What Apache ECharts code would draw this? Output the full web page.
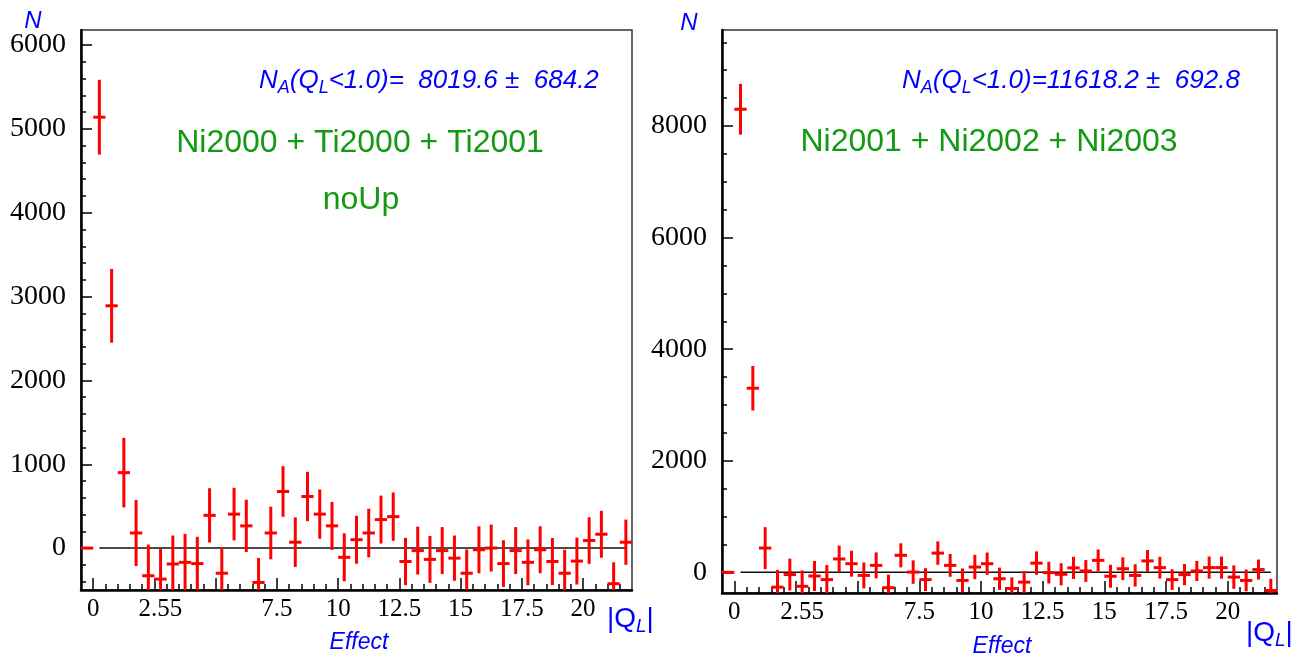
<!DOCTYPE html>
<html>
<head>
<meta charset="utf-8">
<script src="https://cdn.jsdelivr.net/npm/echarts@6/dist/echarts.min.js"></script>
<style>
    html, body { margin: 0; padding: 0; background: #fff; }
    #chart { width: 1302px; height: 657px; }
</style>
</head>
<body>
<div id="chart"></div>
<script>
    // bin centres of |Q_L| (bin width 0.5)
    var binCenters = [-0.25, 0.25, 0.75, 1.25, 1.75, 2.25, 2.75, 3.25, 3.75, 4.25, 4.75,
        5.25, 5.75, 6.25, 6.75, 7.25, 7.75, 8.25, 8.75, 9.25, 9.75, 10.25, 10.75,
        11.25, 11.75, 12.25, 12.75, 13.25, 13.75, 14.25, 14.75, 15.25, 15.75, 16.25, 16.75,
        17.25, 17.75, 18.25, 18.75, 19.25, 19.75, 20.25, 20.75, 21.25, 21.75];
    var binWidth = 0.5;

    // left panel: Ni2000 + Ti2000 + Ti2001 (noUp)
    var leftCounts = [0, 5140, 2890, 900, 180, -330, -370, -190, -170, -185, 390,
        -300, 405, 265, -410, 180, 675, 70, 615, 405, 265, -110, 100,
        180, 340, 375, -160, -30, -135, -30, -120, -300, -20, 0, -185,
        -30, -170, -20, -160, -300, -155, 90, 165, -425, 70];
    var leftErrors = [0, 446, 440, 415, 394, 372, 360, 340, 340, 320, 324,
        312, 314, 312, 292, 314, 302, 296, 294, 294, 286, 286, 286,
        290, 286, 288, 282, 286, 280, 280, 270, 284, 280, 280, 278,
        280, 274, 280, 280, 280, 280, 278, 280, 256, 270];

    // right panel: Ni2001 + Ni2002 + Ni2003
    var rightCounts = [0, 8300, 3300, 435, -265, -40, -250, -65, -130, 240, 155,
        -55, 125, -275, 305, 5, -130, 345, 125, -145, 95, 155, -115,
        -290, -175, 165, -5, -35, 80, 25, 215, -70, 65, -55, 205,
        85, -130, -40, 25, 85, 85, -85, -145, 50, -325];
    var rightErrors = [0, 455, 400, 375, 310, 285, 285, 270, 260, 240, 232,
        232, 232, 233, 216, 210, 205, 210, 204, 215, 218, 200, 200,
        200, 195, 210, 195, 198, 198, 195, 195, 205, 204, 200, 195,
        195, 185, 190, 180, 198, 198, 210, 195, 180, 210];

    // axis ticks / labels
    var xLabelValues = [0, 2.5, 7.5, 10, 12.5, 15, 17.5, 20];
    var xTickLabels = ['0', '2.55', '7.5', '10', '12.5', '15', '17.5', '20'];
    var xMajorTicks = [0, 2.5, 5, 7.5, 10, 12.5, 15, 17.5, 20];
    var leftYLabels = [0, 1000, 2000, 3000, 4000, 5000, 6000];
    var rightYLabels = [0, 2000, 4000, 6000, 8000];

    var leftRange = [-500, 6180];
    var rightRange = [-370, 9720];

    var blue = '#0000ff';
    var green = '#139a13';
    var red = '#ff0000';

    function minorTicks(from, to, step, skip) {
        var out = [];
        for (var v = from; v <= to + 1e-9; v += step) {
            var r = Math.round(v * 100) / 100;
            if (skip.indexOf(r) < 0) out.push(r);
        }
        return out;
    }
    var xMinor = minorTicks(0.5, 21.5, 0.5, xMajorTicks);
    var leftYMinor = minorTicks(-400, 6000, 200, leftYLabels);
    var rightYMinor = minorTicks(500, 9500, 500, rightYLabels);

    function pointsOf(counts, errors) {
        return binCenters.map(function (x, i) { return [x, counts[i], errors[i]]; });
    }

    // error bar cross: vertical = +-error, horizontal = bin width
    function renderErrBar(params, api) {
        var x = api.value(0), y = api.value(1), e = api.value(2);
        var cs = params.coordSys;
        var top = cs.y, bottom = cs.y + cs.height;
        var hi = api.coord([x, y + e]);
        var lo = api.coord([x, y - e]);
        var l = api.coord([x - binWidth / 2, y]);
        var r = api.coord([x + binWidth / 2, y]);
        var cx = (l[0] + r[0]) / 2;
        var style = { stroke: red, lineWidth: 3 };
        var children = [];
        var y1 = Math.max(top, Math.min(bottom, hi[1]));
        var y2 = Math.max(top, Math.min(bottom, lo[1]));
        if (y2 - y1 > 0.5) {
            children.push({ type: 'line', shape: { x1: cx, y1: y1, x2: cx, y2: y2 }, style: style });
        }
        if (l[1] >= top && l[1] <= bottom) {
            children.push({ type: 'line', shape: { x1: l[0], y1: l[1], x2: r[0], y2: r[1] }, style: style });
        }
        return { type: 'group', children: children };
    }

    function xAxes(gridIndex) {
        return [{
            gridIndex: gridIndex, type: 'value', min: -0.5, max: 22, position: 'bottom',
            axisLine: { show: true, onZero: false, lineStyle: { color: '#000', width: 2.5 } },
            axisTick: { show: true, inside: true, length: 12, customValues: xMajorTicks, lineStyle: { color: '#000', width: 1.5 } },
            axisLabel: {
                customValues: xLabelValues, margin: 7, color: '#000',
                fontFamily: 'Liberation Serif', fontSize: 25,
                formatter: function (v) {
                    var k = xLabelValues.indexOf(v);
                    if (k < 0) return '';
                    return v === 2.5 ? '{p|' + xTickLabels[k] + '}' : xTickLabels[k];
                },
                rich: { p: { fontFamily: 'Liberation Serif', fontSize: 25, color: '#000', padding: [0, 0, 0, 12] } }
            },
            splitLine: { show: false }
        }, {
            gridIndex: gridIndex, type: 'value', min: -0.5, max: 22, position: 'bottom',
            axisLine: { show: false, onZero: false },
            axisTick: { show: true, inside: true, length: 6, customValues: xMinor, lineStyle: { color: '#000', width: 1.5 } },
            axisLabel: { show: false },
            splitLine: { show: false }
        }];
    }

    function yAxes(gridIndex, range, labels, minor) {
        return [{
            gridIndex: gridIndex, type: 'value', min: range[0], max: range[1], position: 'left',
            axisLine: { show: true, onZero: false, lineStyle: { color: '#000', width: 2.5 } },
            axisTick: { show: true, inside: true, length: 11, customValues: labels, lineStyle: { color: '#000', width: 1.5 } },
            axisLabel: {
                customValues: labels, margin: 15, color: '#000',
                fontFamily: 'Liberation Serif', fontSize: 28,
                formatter: function (v) { return String(v); }
            },
            splitLine: { show: false }
        }, {
            gridIndex: gridIndex, type: 'value', min: range[0], max: range[1], position: 'left',
            axisLine: { show: false, onZero: false },
            axisTick: { show: true, inside: true, length: 5, customValues: minor, lineStyle: { color: '#000', width: 1.5 } },
            axisLabel: { show: false },
            splitLine: { show: false }
        }];
    }

    function zeroLine(axisIndex) {
        return {
            type: 'line', xAxisIndex: axisIndex, yAxisIndex: axisIndex,
            data: [[0.25, 0], [21.75, 0]], symbol: 'none', silent: true, z: 2,
            lineStyle: { color: '#111', width: 1.5 }
        };
    }

    function errSeries(axisIndex, counts, errors) {
        return {
            type: 'custom', xAxisIndex: axisIndex, yAxisIndex: axisIndex, z: 3,
            renderItem: renderErrBar, data: pointsOf(counts, errors)
        };
    }

    var subRich = {
        i: { fontFamily: 'Liberation Sans', fontStyle: 'italic', fontSize: 26, fill: blue, lineHeight: 32 },
        s: { fontFamily: 'Liberation Sans', fontStyle: 'italic', fontSize: 18, fill: blue, lineHeight: 18, verticalAlign: 'bottom' }
    };
    var qRich = {
        q: { fontFamily: 'Liberation Sans', fontSize: 28, fill: blue, lineHeight: 34 },
        s: { fontFamily: 'Liberation Sans', fontStyle: 'italic', fontSize: 19, fill: blue, lineHeight: 19, verticalAlign: 'bottom' }
    };

    function plainText(x, y, text, size, color, italic) {
        return {
            type: 'text', z: 10,
            style: {
                x: x, y: y, text: text, align: 'center', verticalAlign: 'middle',
                fontFamily: 'Liberation Sans', fontSize: size, fontStyle: italic ? 'italic' : 'normal', fill: color
            }
        };
    }

    function richText(x, y, text, rich) {
        return {
            type: 'text', z: 10,
            style: { x: x, y: y, text: text, align: 'left', verticalAlign: 'middle', fill: blue, rich: rich }
        };
    }

    var myEcharts = echarts.init(document.getElementById('chart'), null, { renderer: 'canvas' });
    myEcharts.setOption({
        animation: false,
        backgroundColor: '#fff',
        grid: [
            { left: 81, top: 30, width: 551, height: 560, show: true, borderColor: '#333', borderWidth: 1.5 },
            { left: 722, top: 30, width: 555, height: 563, show: true, borderColor: '#333', borderWidth: 1.5 }
        ],
        xAxis: xAxes(0).concat(xAxes(1)),
        yAxis: yAxes(0, leftRange, leftYLabels, leftYMinor).concat(yAxes(1, rightRange, rightYLabels, rightYMinor)),
        series: [
            zeroLine(0), errSeries(0, leftCounts, leftErrors),
            zeroLine(2), errSeries(2, rightCounts, rightErrors)
        ],
        graphic: [
            plainText(33, 21, 'N', 24, blue, true),
            plainText(689, 23, 'N', 24, blue, true),
            richText(259, 81, '{i|N}{s|A}{i|(Q}{s|L}{i|<1.0)=  8019.6 ±  684.2}', subRich),
            richText(902, 81, '{i|N}{s|A}{i|(Q}{s|L}{i|<1.0)=11618.2 ±  692.8}', subRich),
            plainText(360, 143, 'Ni2000 + Ti2000 + Ti2001', 32, green, false),
            plainText(361, 200, 'noUp', 32, green, false),
            plainText(989, 142, 'Ni2001 + Ni2002 + Ni2003', 32, green, false),
            richText(607, 619, '{q||Q}{s|L}{q||}', qRich),
            richText(1246, 633, '{q||Q}{s|L}{q||}', qRich),
            plainText(359, 643, 'Effect', 23, blue, true),
            plainText(1002, 647, 'Effect', 23, blue, true)
        ]
    });
</script>
</body>
</html>
